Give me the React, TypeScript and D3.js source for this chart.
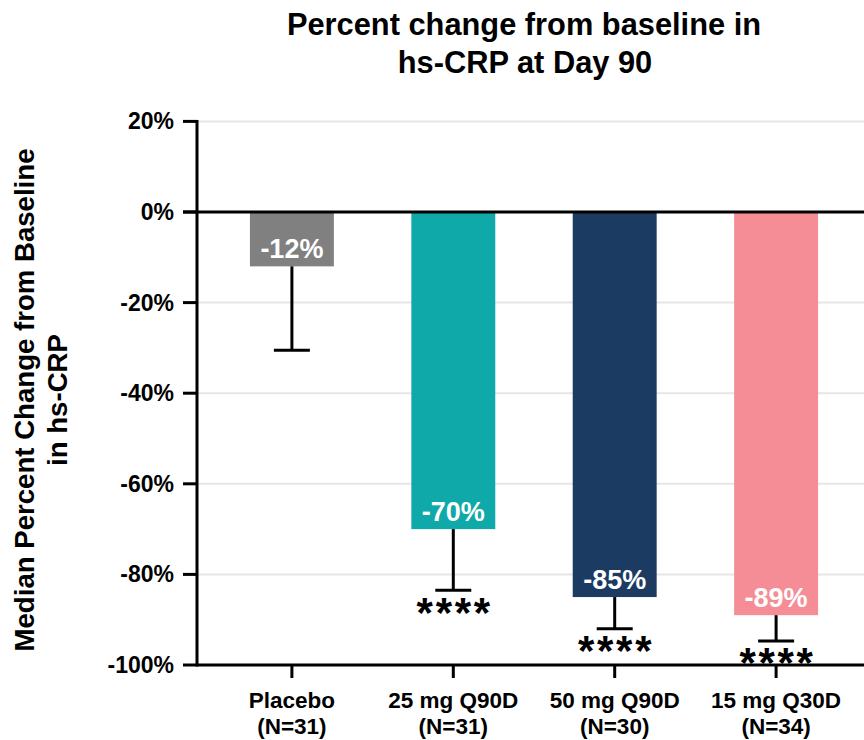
import React from "react";
import * as d3 from "d3";

// Treatment groups and their medians (percent change from baseline)
const groups = ["Placebo", "25 mg Q90D", "50 mg Q90D", "15 mg Q30D"];
const groupN = ["(N=31)", "(N=31)", "(N=30)", "(N=34)"];
const medians = [-12, -70, -85, -89];
// Lower end of the whiskers
const lowerErr = [-30.5, -83.5, -92, -94.7];
// Significance markers (empty = none)
const significance = ["", "****", "****", "****"];
const barColors = ["#808080", "#10a9aa", "#1c3b63", "#f48d96"];
const yTicks = [20, 0, -20, -40, -60, -80, -100];

const W = 864;
const H = 740;
const FONT = "'Liberation Sans', Arial, Helvetica, sans-serif";

export default function App() {
  const axisX = 197;
  const y = d3.scaleLinear().domain([-100, 20]).range([665, 121.4]);
  const x = d3
    .scaleBand<string>()
    .domain(groups)
    .range([axisX, 871])
    .paddingInner(0.48)
    .paddingOuter(0.328);
  const bw = x.bandwidth();
  const capW = 36;
  const starSize = 42;

  return (
    <svg
      width={W}
      height={H}
      style={{ position: "absolute", left: 0, top: 0, background: "#fff" }}
      fontFamily={FONT}
    >
      {/* Title */}
      <text x={524} y={35} textAnchor="middle" fontSize={30.8} fontWeight="bold" fill="#000">
        Percent change from baseline in
      </text>
      <text x={525} y={73} textAnchor="middle" fontSize={30.8} fontWeight="bold" fill="#000">
        hs-CRP at Day 90
      </text>

      {/* Gridlines */}
      {yTicks
        .filter((t) => t !== 0 && t !== -100)
        .map((t) => (
          <line key={"g" + t} x1={axisX} x2={W} y1={y(t)} y2={y(t)} stroke="#e6e6e6" strokeWidth={2} />
        ))}

      {/* Bars */}
      {groups.map((g, i) => (
        <rect
          key={"b" + g}
          x={x(g)}
          y={y(0)}
          width={bw}
          height={y(medians[i]) - y(0)}
          fill={barColors[i]}
        />
      ))}

      {/* Whiskers */}
      {groups.map((g, i) => {
        const cx = (x(g) as number) + bw / 2;
        return (
          <g key={"e" + g} stroke="#000" strokeWidth={3}>
            <line x1={cx} x2={cx} y1={y(medians[i])} y2={y(lowerErr[i])} />
            <line x1={cx - capW / 2} x2={cx + capW / 2} y1={y(lowerErr[i])} y2={y(lowerErr[i])} />
          </g>
        );
      })}

      {/* Value labels inside bars */}
      {groups.map((g, i) => (
        <text
          key={"v" + g}
          x={(x(g) as number) + bw / 2}
          y={y(medians[i]) - 8}
          textAnchor="middle"
          fontSize={27}
          fontWeight="bold"
          fill="#fff"
        >
          {`${medians[i]}%`}
        </text>
      ))}

      {/* Significance stars */}
      {groups.map((g, i) =>
        significance[i] ? (
          <text
            key={"s" + g}
            x={(x(g) as number) + bw / 2 + 1.4}
            y={y(lowerErr[i]) + 7 + starSize * 0.7}
            textAnchor="middle"
            fontSize={starSize}
            fontWeight="bold"
            letterSpacing={2.7}
            fill="#000"
          >
            {significance[i]}
          </text>
        ) : null
      )}

      {/* Zero line */}
      <line x1={183} x2={W} y1={y(0)} y2={y(0)} stroke="#000" strokeWidth={3} />

      {/* Y axis */}
      <line x1={axisX} x2={axisX} y1={y(20) - 1.5} y2={y(-100) + 1.5} stroke="#000" strokeWidth={3} />
      {yTicks.map((t) => (
        <g key={"t" + t}>
          <line x1={183} x2={axisX} y1={y(t)} y2={y(t)} stroke="#000" strokeWidth={3} />
          <text x={174} y={y(t) + 8} textAnchor="end" fontSize={23} fontWeight="bold" fill="#000">
            {`${t}%`}
          </text>
        </g>
      ))}

      {/* X axis */}
      <line x1={axisX} x2={W} y1={y(-100)} y2={y(-100)} stroke="#000" strokeWidth={3} />
      {groups.map((g, i) => {
        const cx = (x(g) as number) + bw / 2;
        return (
          <g key={"x" + g}>
            <line x1={cx} x2={cx} y1={y(-100)} y2={y(-100) + 13} stroke="#000" strokeWidth={3} />
            <text x={cx} y={708} textAnchor="middle" fontSize={22.5} fontWeight="bold" fill="#000">
              {g}
            </text>
            <text x={cx} y={734} textAnchor="middle" fontSize={22.5} fontWeight="bold" fill="#000">
              {groupN[i]}
            </text>
          </g>
        );
      })}

      {/* Y axis title */}
      <g transform={`translate(34, 400) rotate(-90)`}>
        <text x={0} y={0} textAnchor="middle" fontSize={27.6} fontWeight="bold" fill="#000">
          Median Percent Change from Baseline
        </text>
        <text x={0} y={33} textAnchor="middle" fontSize={27.6} fontWeight="bold" fill="#000">
          in hs-CRP
        </text>
      </g>
    </svg>
  );
}
